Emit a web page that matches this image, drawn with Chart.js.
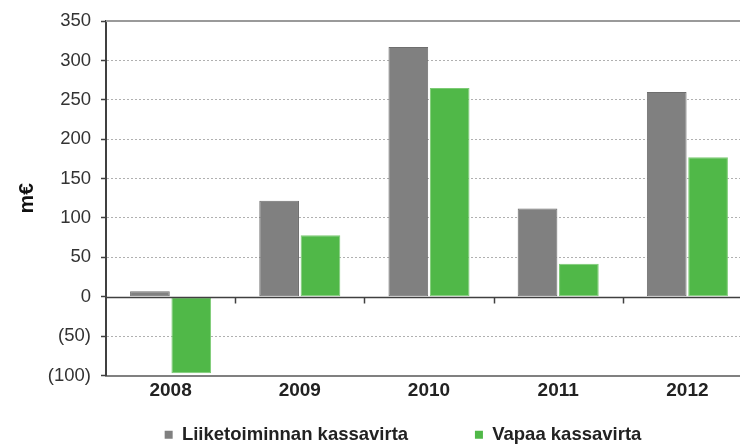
<!DOCTYPE html>
<html>
<head>
<meta charset="utf-8">
<script src="https://cdn.jsdelivr.net/npm/chart.js@4.4.1/dist/chart.umd.min.js"></script>
<style>
  html, body { margin: 0; padding: 0; background: #fff; overflow: hidden; }
  #wrap { width: 760px; height: 444px; }
</style>
</head>
<body>
<div id="wrap"><canvas id="kassavirta" width="760" height="444"></canvas></div>
<script>
// vuodet ja sarjat (m€)
const vuodet = ['2008', '2009', '2010', '2011', '2012'];
const liiketoiminnanKassavirta = [7, 122, 317, 112, 260];
const vapaaKassavirta = [-97, 78, 265, 42, 177];
const yTicks = [-100, -50, 0, 50, 100, 150, 200, 250, 300, 350];

const fontFamily = '"Liberation Sans", Arial, sans-serif';

// nollaviiva, ylareuna ja pienet jakoviivat nollan kohdalla
const extraLines = {
    id: 'extraLines',
    afterDatasetsDraw(chart) {
        const ctx = chart.ctx;
        const area = chart.chartArea;
        const x = chart.scales.x;
        const y = chart.scales.y;
        const y0 = Math.round(y.getPixelForValue(0)) + 0.5;
        ctx.save();
        ctx.strokeStyle = '#9a9a9a';
        ctx.lineWidth = 2;
        ctx.beginPath();
        ctx.moveTo(area.left, area.top);
        ctx.lineTo(area.right, area.top);
        ctx.stroke();
        ctx.strokeStyle = '#404040';
        ctx.lineWidth = 1.5;
        ctx.beginPath();
        ctx.moveTo(area.left, y0);
        ctx.lineTo(area.right, y0);
        ctx.stroke();
        for (let i = 1; i < vuodet.length; i++) {
            const bx = Math.round((x.getPixelForValue(i - 1) + x.getPixelForValue(i)) / 2) + 0.5;
            ctx.beginPath();
            ctx.moveTo(bx, y0);
            ctx.lineTo(bx, y0 + 6);
            ctx.stroke();
        }
        ctx.restore();
    },
    afterLayout(chart) {
        // legenda hieman oikealle ja alemmas kuten alkuperaisessa
        chart.legend.left += 27;
        chart.legend.right += 27;
        chart.legend.top += 10;
        chart.legend.bottom += 10;
    }
};

const ctx = document.getElementById('kassavirta').getContext('2d');
const chart = new Chart(ctx, {
    type: 'bar',
    data: {
        labels: vuodet,
        datasets: [{
            label: 'Liiketoiminnan kassavirta',
            data: liiketoiminnanKassavirta,
            backgroundColor: '#808080',
            borderColor: '#6e6e6e',
            borderWidth: 1,
            borderSkipped: false
        }, {
            label: 'Vapaa kassavirta',
            data: vapaaKassavirta,
            backgroundColor: '#50b848',
            borderColor: '#7ccb74',
            borderWidth: 1,
            borderSkipped: false
        }]
    },
    options: {
        responsive: false,
        animation: false,
        categoryPercentage: 0.64,
        barPercentage: 0.96,
        layout: { padding: { top: 19, right: 8, left: 0, bottom: 0 } },
        plugins: {
            tooltip: { enabled: false },
            legend: {
                position: 'bottom',
                labels: {
                    boxWidth: 8,
                    boxHeight: 8,
                    padding: 0,
                    color: '#222',
                    font: { family: fontFamily, size: 18.5, weight: 'bold' },
                    generateLabels(chart) {
                        const items = Chart.defaults.plugins.legend.labels.generateLabels(chart);
                        items.forEach(it => { it.lineWidth = 0; });
                        items[0].text += '\u00a0'.repeat(13);
                        return items;
                    }
                }
            }
        },
        scales: {
            x: {
                grid: { display: false },
                border: { display: true, color: '#808080', width: 2 },
                ticks: {
                    color: '#222',
                    padding: -4,
                    font: { family: fontFamily, size: 19, weight: 'bold' }
                },
                afterFit(s) { s.height = 40; }
            },
            y: {
                min: -100,
                max: 350,
                afterBuildTicks(s) { s.ticks = yTicks.map(v => ({ value: v })); },
                grid: {
                    color: c => (c.tick && (c.tick.value === 0 || c.tick.value === 350 || c.tick.value === -100)) ? 'rgba(0,0,0,0)' : '#b0b0b0',
                    lineWidth: 1,
                    tickLength: 5,
                    tickColor: '#404040',
                    tickWidth: 1.5
                },
                border: { display: true, color: '#404040', width: 2, dash: [2, 2] },
                ticks: {
                    color: '#333',
                    padding: 10,
                    font: { family: fontFamily, size: 18.5 },
                    callback: v => v < 0 ? '(' + Math.abs(v) + ')' : String(v)
                },
                title: {
                    display: true,
                    text: 'm€',
                    color: '#111',
                    padding: { top: 15, bottom: 0 },
                    font: { family: fontFamily, size: 21, weight: 'bold' }
                },
                afterFit(s) { s.width = 106; }
            }
        }
    },
    plugins: [extraLines]
});
</script>
</body>
</html>
